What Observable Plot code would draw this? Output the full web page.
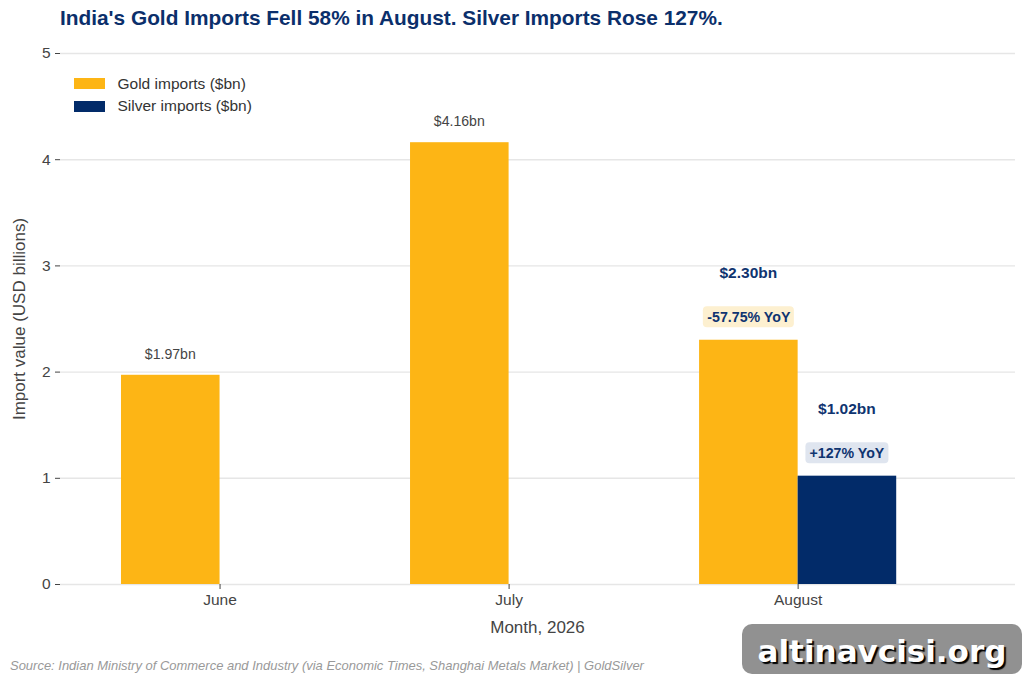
<!DOCTYPE html>
<html>
<head>
<meta charset="utf-8">
<script src="https://cdn.jsdelivr.net/npm/d3@7"></script>
<script src="https://cdn.jsdelivr.net/npm/@observablehq/plot@0.6"></script>
<style>
  html, body { margin: 0; padding: 0; background: #fff; font-family: "Liberation Sans", Arial, sans-serif; }
  #page { position: relative; width: 1024px; height: 682px; overflow: hidden; }
  #title { position: absolute; left: 60px; top: 5px; font-size: 20.83px; line-height: 26px; font-weight: 700; color: #0b2f6b; white-space: nowrap; }
  #chart { position: absolute; left: 0; top: 36px; }
  #legend { position: absolute; left: 74px; top: 72.5px; font-size: 15.5px; color: #333; }
  .row { display: flex; align-items: center; height: 22.5px; }
  .sw { width: 31px; height: 11px; margin-right: 12.5px; }
  #source { position: absolute; left: 10px; top: 657.5px; font-size: 12.98px; line-height: 16px; font-style: italic; color: #999; white-space: nowrap; }
  #badge { position: absolute; left: 742px; top: 624px; width: 280px; height: 50px; border-radius: 10px; background: #919191; color: #fff; font-family: "DejaVu Sans", sans-serif; font-weight: 700; font-size: 31px; line-height: 55px; text-align: center; text-shadow: 2px 2px 1px #000; white-space: nowrap; }
</style>
</head>
<body>
<div id="page">
  <div id="title"></div>
  <div id="chart"></div>
  <div id="legend"></div>
  <div id="source"></div>
  <div id="badge"></div>
</div>
<script>
const titleText = "India's Gold Imports Fell 58% in August. Silver Imports Rose 127%.";
const sourceText = "Source: Indian Ministry of Commerce and Industry (via Economic Times, Shanghai Metals Market) | GoldSilver";
const badgeText = "altinavcisi.org";
const xAxisLabel = "Month, 2026";
const yAxisLabel = "Import value (USD billions)";
const months = ["June", "July", "August"];
const goldValues = [1.97, 4.16, 2.30];
const goldLabels = ["$1.97bn", "$4.16bn", "$2.30bn"];
const silverValues = [null, null, 1.02];
const silverLabels = [null, null, "$1.02bn"];
const goldYoY = [null, null, "-57.75% YoY"];
const silverYoY = [null, null, "+127% YoY"];
const yTicks = [0, 1, 2, 3, 4, 5];
const seriesNames = ["Gold imports ($bn)", "Silver imports ($bn)"];
const GOLD = "#fdb515", NAVY = "#022b69", LABEL = "#0f3470";
const barW = 0.341;

document.getElementById("title").textContent = titleText;
document.getElementById("source").textContent = sourceText;
document.getElementById("badge").textContent = badgeText;
document.getElementById("legend").innerHTML = seriesNames.map((s, i) =>
  `<div class="row"><div class="sw" style="background:${i ? NAVY : GOLD}"></div><span>${s}</span></div>`).join("");

const gold = months.map((m, i) => ({i, v: goldValues[i], label: goldLabels[i], yoy: goldYoY[i]}));
const silver = months.map((m, i) => ({i, v: silverValues[i], label: silverLabels[i], yoy: silverYoY[i]})).filter(d => d.v != null);
const goldPlain = gold.filter(d => !d.yoy);
const goldYoYRows = gold.filter(d => d.yoy);

const pill = (rows, x, halfW, fill) => Plot.rect(rows, {
  x1: x, x2: x, y1: "v", y2: "v", fill, rx: 4, dy: -23,
  insetLeft: -halfW, insetRight: -halfW, insetTop: -10.5, insetBottom: -10.5
});
const gx = d => d.i - barW / 2;
const sx = d => d.i + barW / 2;

const plot = Plot.plot({
  width: 1024,
  height: 614,
  marginLeft: 60,
  marginRight: 9,
  marginTop: 17,
  marginBottom: 66,
  style: {fontFamily: "'Liberation Sans', Arial, sans-serif", background: "transparent", overflow: "visible"},
  x: {domain: [-0.552, 2.752]},
  y: {domain: [0, 5]},
  marks: [
    Plot.ruleY(yTicks, {stroke: "#e6e6e6", strokeWidth: 1.4}),
    Plot.rectY(gold, {x1: d => d.i - barW, x2: "i", y1: 0, y2: "v", fill: GOLD}),
    Plot.rectY(silver, {x1: "i", x2: d => d.i + barW, y1: 0, y2: "v", fill: NAVY}),
    Plot.text(goldPlain, {x: gx, y: "v", text: "label", dx: -0.5, dy: -21, fontSize: 14.1, fill: "#444"}),
    Plot.text(goldYoYRows, {x: gx, y: "v", text: "label", dx: -0.5, dy: -67, fontSize: 15.5, fontWeight: 700, fill: LABEL}),
    Plot.text(silver, {x: sx, y: "v", text: "label", dx: -0.5, dy: -67, fontSize: 15.5, fontWeight: 700, fill: LABEL}),
    pill(goldYoYRows, gx, 45.5, "#fdf0d0"),
    pill(silver, sx, 41.5, "#dfe5ef"),
    Plot.text(goldYoYRows, {x: gx, y: "v", text: "yoy", dy: -23, fontSize: 14.2, fontWeight: 700, fill: LABEL}),
    Plot.text(silver, {x: sx, y: "v", text: "yoy", dx: -0.5, dy: -23, fontSize: 14.2, fontWeight: 700, fill: LABEL}),
    Plot.axisY({ticks: yTicks, tickFormat: d3.format("d"), tickSize: 5, tickPadding: 5, fontSize: 15.5, color: "#444", label: null}),
    Plot.axisX({ticks: [0, 1, 2], tickFormat: i => months[i], tickSize: 5, tickPadding: 4, fontSize: 15.5, color: "#444", label: null}),
    Plot.text([xAxisLabel], {frameAnchor: "bottom", dy: 43.5, dx: -0.5, fontSize: 17, fill: "#444", lineAnchor: "middle"}),
    Plot.text([yAxisLabel], {frameAnchor: "left", dx: -41, rotate: -90, textAnchor: "middle", fontSize: 17, fill: "#444"})
  ]
});
document.getElementById("chart").appendChild(plot);
</script>
</body>
</html>
